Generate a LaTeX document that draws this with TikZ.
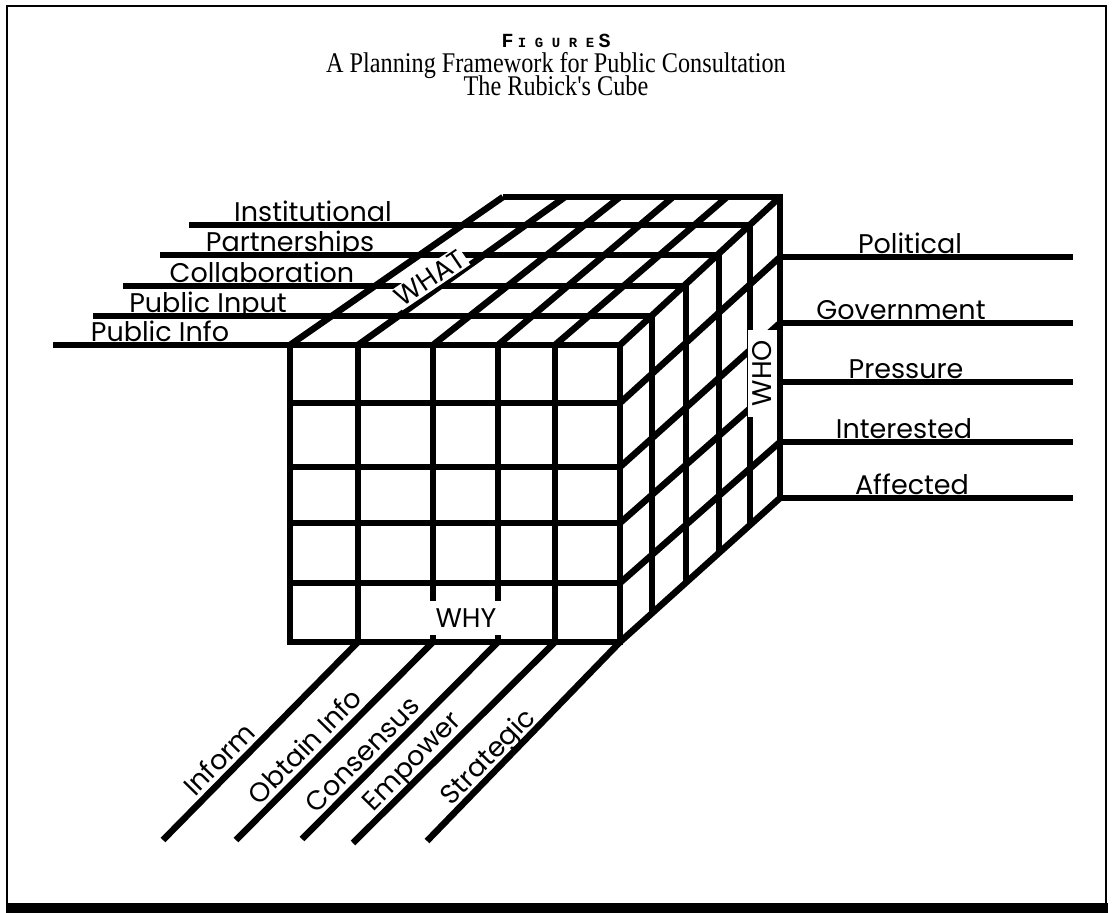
\documentclass[tikz,border=0pt]{standalone}
\usepackage{fontspec}
\setmainfont{Liberation Serif}
\newfontfamily\labelfont{Poppins}
\newfontfamily\titleserif[FakeStretch=0.85]{Liberation Serif}
\newfontfamily\figfont{Liberation Mono}
\newcommand\spacedcap[1]{\makebox[17pt]{#1}}
\begin{document}
\begin{tikzpicture}[x=1pt,y=-1pt,line cap=butt,
  cubeline/.style={line width=6.5pt},
  frameline/.style={line width=2.6pt},
  lbl/.style={font=\labelfont\fontsize{27}{27}\selectfont,inner sep=0pt,anchor=base},
  tag/.style={font=\labelfont\fontsize{27}{27}\selectfont,fill=white,inner sep=2pt}]
\useasboundingbox (0,0) rectangle (1112,913);

% page frame
\draw[frameline] (6,6) -- (1107,6);
\draw[line width=2pt] (7,5) -- (7,904) (1106,5) -- (1106,904);
\fill (6,903) rectangle (1108,913);

% heading
\node[anchor=base] (fig) at (556,47) {\figfont\bfseries\fontsize{20}{20}\selectfont F\fontsize{14}{14}\selectfont\spacedcap{I}\spacedcap{G}\spacedcap{U}\spacedcap{R}\spacedcap{E}\fontsize{20}{20}\selectfont S};
\node[anchor=base] (sub1) at (556,72) {\titleserif\fontsize{28.5}{28.5}\selectfont A Planning Framework for Public Consultation};
\node[anchor=base] (sub2) at (556,95) {\titleserif\fontsize{28.5}{28.5}\selectfont The Rubick's Cube};

% front face
\foreach \x in {358,433,498,555} \draw[cubeline] (\x,345) -- (\x,642);
\foreach \y in {403,467,523,583} \draw[cubeline] (290,\y) -- (620,\y);
\draw[cubeline] (290,345) rectangle (620,642);

% top face
\draw[cubeline] (503,197) -- (780,197) -- (780,498);
\foreach \a/\b in {290/503,358/565,433/620,498/673,555/727,620/780}
  \draw[cubeline] (\a,345) -- (\b,197);
\foreach \xl/\xr/\y in {189/750/225,160/719/255,123/686/286,93/652/316,53/620/345}
  \draw[cubeline] (\xl,\y) -- (\xr,\y);

% right face
\foreach \x/\yt/\yb in {750/225/526,719/255/554,686/286/584,652/316/613}
  \draw[cubeline] (\x,\yt) -- (\x,\yb);
\foreach \yf/\yb in {403/257,467/323,523/382,583/442,642/498}
  \draw[cubeline] (620,\yf) -- (780,\yb);
\foreach \y in {257,323,382,442,498}
  \draw[cubeline] (780,\y) -- (1073,\y);

% purpose axis
\foreach \a/\b/\c in {358/163/840,433/236/840,498/302/839,555/353/843,620/427/841}
  \draw[cubeline] (\a,642) -- (\b,\c);

% level labels
\node[lbl] (l1) at (313,221) {Institutional};
\node[lbl] (l2) at (290,251) {Partnerships};
\node[lbl] (l3) at (262,282) {Collaboration};
\node[lbl] (l4) at (208,312) {Public Input};
\node[lbl] (l5) at (160,341) {Public Info};

% stakeholder labels
\node[lbl] (r1) at (910,253) {Political};
\node[lbl] (r2) at (901,319) {Government};
\node[lbl] (r3) at (906,378) {Pressure};
\node[lbl] (r4) at (904,438) {Interested};
\node[lbl] (r5) at (912,494) {Affected};

% purpose labels
\node[lbl,rotate=45.6] (p1) at (226,766) {Inform};
\node[lbl,rotate=45.6] (p2) at (312,753) {Obtain Info};
\node[lbl,rotate=45.6] (p3) at (369,761) {Consensus};
\node[lbl,rotate=45.6] (p4) at (418,767) {Empower};
\node[lbl,rotate=45.6] (p5) at (494,763) {Strategic};

% axis names
\node[tag,rotate=34] (what) at (430,278) {WHAT};
\node[tag,minimum width=72pt,minimum height=34pt] (why) at (466,618) {WHY};
\node[tag,rotate=90,inner sep=0pt,minimum width=87pt,minimum height=29pt] (who) at (762,373) {WHO};
\draw[line width=1pt] (who.north west) -- (who.north east);
\end{tikzpicture}
\end{document}
